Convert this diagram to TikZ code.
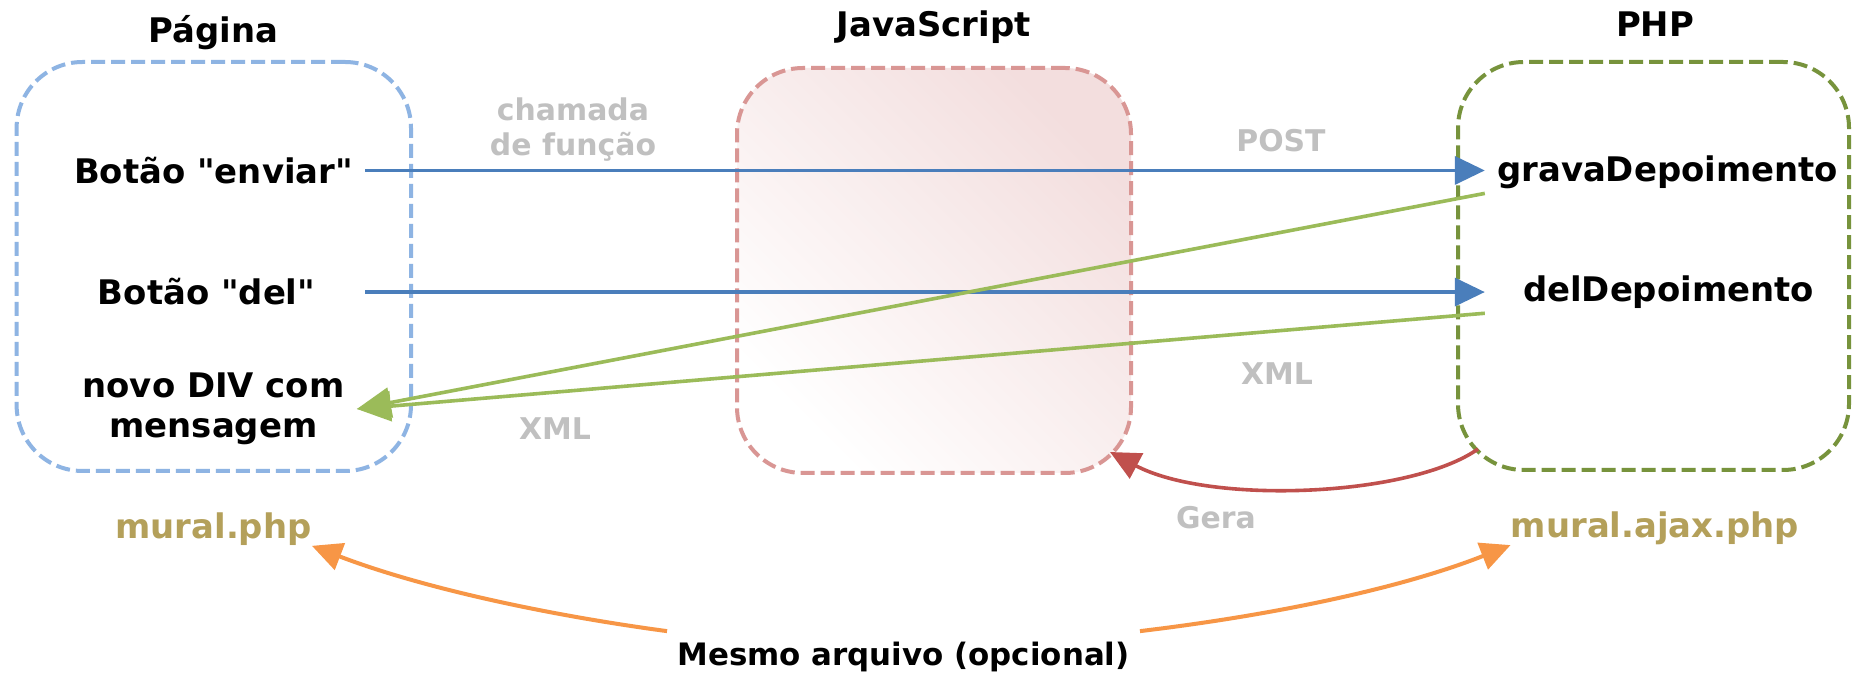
\documentclass[tikz,border=0pt]{standalone}
\usepackage{fontspec}
\setmainfont{DejaVu Sans}
\usetikzlibrary{arrows.meta}
\definecolor{postcol}{RGB}{74,126,187}
\definecolor{xmlcol}{RGB}{155,187,89}
\definecolor{geracol}{RGB}{192,80,77}
\definecolor{filecol}{RGB}{247,150,70}
\definecolor{namecol}{RGB}{180,160,90}
\definecolor{labelcol}{RGB}{192,192,192}
\definecolor{jsfill}{RGB}{243,222,222}
\begin{document}
\begin{tikzpicture}[>={Triangle[length=15bp,width=14bp]},line join=bevel,
  lane/.style={draw=strokecol,line width=2bp,dash pattern=on 7bp off 3bp,rounded corners=33bp},
  item/.style={font=\bfseries\fontsize{17}{20}\selectfont,inner sep=6bp},
  title/.style={font=\bfseries\fontsize{17}{20}\selectfont,anchor=base},
  hint/.style={font=\bfseries\fontsize{15}{17.5}\selectfont,text=labelcol,inner sep=0pt,align=center},
  fname/.style={font=\bfseries\fontsize{17}{20}\selectfont,text=namecol,inner sep=0pt,anchor=base},
  flow/.style={->,line width=1.8bp},
]
  \fill[white] (0bp,0bp) rectangle (926.5bp,336.5bp);
  \useasboundingbox (0bp,0bp) rectangle (926.5bp,336.5bp);
%%
  % Node: pagina
\begin{scope}
  \definecolor{strokecol}{RGB}{142,180,227}
  \node[lane,minimum width=197.2bp,minimum height=204.5bp] (pagbox) at (106.9bp,203.25bp) {};
  \node[title] (pagtitle) at (106.75bp,315.3bp) {Página};
  \node[item,anchor=base] (enviar) at (106.75bp,244.8bp) {Botão \textquotedbl enviar\textquotedbl};
  \node[item,anchor=base] (del) at (103.3bp,184.0bp) {Botão \textquotedbl del\textquotedbl};
  \node[item,align=center] (novo) at (106.75bp,132.0bp) {novo DIV com\\mensagem};
  \node[fname] (muralphp) at (106.75bp,67.3bp) {mural.php};
\end{scope}
  % Node: javascript
\begin{scope}
  \definecolor{strokecol}{RGB}{217,150,148}
  \node[lane,bottom color=white,top color=jsfill,shading angle=-45,minimum width=197bp,minimum height=202.5bp] (jsbox) at (467.0bp,201.25bp) {};
  \node[title] (jstitle) at (466.85bp,318.2bp) {JavaScript};
\end{scope}
  % Node: php
\begin{scope}
  \definecolor{strokecol}{RGB}{119,147,60}
  \node[lane,minimum width=195.5bp,minimum height=204bp] (phpbox) at (826.75bp,203.5bp) {};
  \node[title] (phptitle) at (827.5bp,318.2bp) {PHP};
  \node[item,anchor=base] (grava) at (833.8bp,245.7bp) {gravaDepoimento};
  \node[item,anchor=base] (deldep) at (834.25bp,185.7bp) {delDepoimento};
  \node[fname] (muralajax) at (827.5bp,67.8bp) {mural.ajax.php};
\end{scope}
  % Node: labels
  \node[hint] (chamada) at (286.5bp,271.8bp) {chamada\\de função};
  \node[hint,anchor=base] (post) at (640.5bp,260.7bp) {POST};
  \node[hint,anchor=base] (xmlright) at (638.5bp,144.0bp) {XML};
  \node[hint,anchor=base] (xmlleft) at (277.5bp,116.5bp) {XML};
  \node[hint,anchor=base] (gera) at (608.0bp,72.3bp) {Gera};
  \node[font=\bfseries\fontsize{15.5}{18}\selectfont,fill=white,inner sep=5bp,anchor=base] (mesmo) at (451.75bp,4.0bp) {Mesmo arquivo (opcional)};
%%
  % Edge: enviar -> grava
  \draw[flow,postcol] (enviar.east) -- (enviar.east -| grava.west);
  % Edge: del -> deldep
  \draw[flow,postcol] (del.east -| enviar.east) -- (del.east -| grava.west);
  % Edge: grava -> novo
  \draw[flow,-{Triangle[length=17bp,width=15bp]},xmlcol] ([yshift=-10.5bp]grava.west) -- (novo.east);
  % Edge: deldep -> novo
  \draw[flow,-{Triangle[length=17bp,width=15bp]},xmlcol] ([yshift=-10.5bp]deldep.west -| grava.west) -- (novo.east);
  % Edge: phpbox -> jsbox
  \draw[flow,geracol] ([shift={(11bp,11.5bp)}]phpbox.south west) .. controls (705bp,88bp) and (605bp,84bp) .. ([shift={(-11.5bp,11.5bp)}]jsbox.south east);
  % Edge: mesmo -> muralphp
  \draw[flow,line width=2bp,filecol] (mesmo.north west) .. controls (273.5bp,29bp) and (211bp,42.5bp) .. (muralphp.south east);
  % Edge: mesmo -> muralajax
  \draw[flow,line width=2bp,filecol] (mesmo.north east) .. controls (637.5bp,29bp) and (701bp,42.5bp) .. (muralajax.south west);
%
\end{tikzpicture}
\end{document}
